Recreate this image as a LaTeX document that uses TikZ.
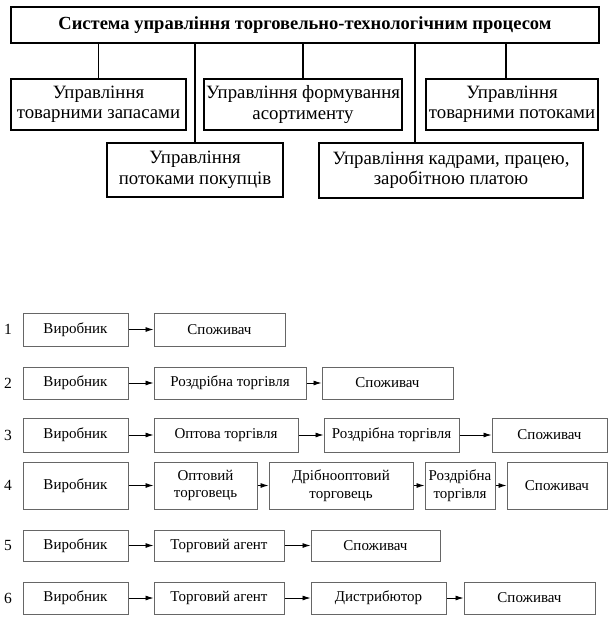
\documentclass[tikz,border=0pt]{standalone}
\usepackage{fontspec}
\setmainfont{Liberation Serif}
\usetikzlibrary{arrows.meta}

\begin{document}
\begin{tikzpicture}[x=1pt, y=-1pt,
        topbox/.style   = {draw, line width=1.6pt, inner sep=0pt, align=center,
                           font=\fontsize{18.8}{20.5}\selectfont},
        chainbox/.style = {draw=black!60, line width=1pt, inner sep=0pt, align=center,
                           font=\fontsize{15}{17.5}\selectfont},
        branch/.style   = {line width=1.6pt},
        flow/.style     = {-{Latex[length=8pt, width=5pt]}, line width=0.8pt},
        rownum/.style   = {font=\fontsize{15.5}{17}\selectfont}]
            \useasboundingbox (0, 0) rectangle (613, 620);

            % draw control system boxes
            \node[topbox, minimum width=588pt, minimum height=36pt,
                  font=\fontsize{18.5}{20}\selectfont\bfseries] (sys) at (305, 25)
                  {Система управління торговельно-технологічним процесом};
            \node[topbox, minimum width=175pt, minimum height=51pt] (zapasy) at ( 98.5, 104.5)
                  {Управління\\товарними запасами};
            \node[topbox, minimum width=198pt, minimum height=51pt] (asort)  at (303, 104.5)
                  {Управління формування\\асортименту};
            \node[topbox, minimum width=172pt, minimum height=51pt] (potoky) at (512, 104.5)
                  {Управління\\товарними потоками};
            \node[topbox, minimum width=176pt, minimum height=54pt] (pokup)  at (195, 170)
                  {Управління\\потоками покупців};
            \node[topbox, minimum width=264pt, minimum height=55pt] (kadry)  at (451, 170.5)
                  {Управління кадрами, працею,\\заробітною платою};

            % draw branch lines
            \draw[branch] (sys.south -| zapasy.north) -- (zapasy.north);
            \draw[branch] (sys.south -| pokup.north)  -- (pokup.north);
            \draw[branch] (sys.south -| asort.north)  -- (asort.north);
            \coordinate (kadrytop) at (415, 0);
            \draw[branch] (sys.south -| kadrytop) -- (kadry.north -| kadrytop);
            \coordinate (potokytop) at (506, 0);
            \draw[branch] (sys.south -| potokytop) -- (potoky.north -| potokytop);

            % draw distribution channels
            \foreach \n/\y in {1/329.5, 2/383, 3/435, 4/485.5, 5/545.5, 6/598}
                \node[rownum] (num\n) at (8, \y) {\n};

            % channel 1
            \node[chainbox, minimum width=105pt, minimum height=33pt] (a1) at ( 75.5, 329.5) {Виробник};
            \node[chainbox, minimum width=131pt, minimum height=33pt] (a2) at (219.5, 329.5) {Споживач};
            \draw[flow] (a1) -- (a2);

            % channel 2
            \node[chainbox, minimum width=105pt, minimum height=32pt] (b1) at ( 75.5, 383) {Виробник};
            \node[chainbox, minimum width=152pt, minimum height=32pt] (b2) at (230,   383) {Роздрібна торгівля};
            \node[chainbox, minimum width=131pt, minimum height=32pt] (b3) at (387.5, 383) {Споживач};
            \draw[flow] (b1) -- (b2);
            \draw[flow] (b2) -- (b3);

            % channel 3
            \node[chainbox, minimum width=105pt, minimum height=34pt] (c1) at ( 75.5, 435) {Виробник};
            \node[chainbox, minimum width=144pt, minimum height=34pt] (c2) at (226,   435) {Оптова торгівля};
            \node[chainbox, minimum width=135pt, minimum height=34pt] (c3) at (391.5, 435) {Роздрібна торгівля};
            \node[chainbox, minimum width=115pt, minimum height=34pt] (c4) at (549.5, 435) {Споживач};
            \draw[flow] (c1) -- (c2);
            \draw[flow] (c2) -- (c3);
            \draw[flow] (c3) -- (c4);

            % channel 4
            \node[chainbox, minimum width=105pt, minimum height=47pt] (d1) at ( 75.5, 485.5) {Виробник};
            \node[chainbox, minimum width=103pt, minimum height=47pt] (d2) at (205.5, 485.5) {Оптовий\\торговець};
            \node[chainbox, minimum width=144pt, minimum height=47pt] (d3) at (341,   485.5) {Дрібнооптовий\\торговець};
            \node[chainbox, minimum width=70pt,  minimum height=47pt] (d4) at (460,   485.5) {Роздрібна\\торгівля};
            \node[chainbox, minimum width=100pt, minimum height=47pt] (d5) at (557,   485.5) {Споживач};
            \draw[flow] (d1) -- (d2);
            \draw[flow] (d2) -- (d3);
            \draw[flow] (d3) -- (d4);
            \draw[flow] (d4) -- (d5);

            % channel 5
            \node[chainbox, minimum width=105pt, minimum height=31pt] (e1) at ( 75.5, 545.5) {Виробник};
            \node[chainbox, minimum width=130pt, minimum height=31pt] (e2) at (219,   545.5) {Торговий агент};
            \node[chainbox, minimum width=129pt, minimum height=31pt] (e3) at (375.5, 545.5) {Споживач};
            \draw[flow] (e1) -- (e2);
            \draw[flow] (e2) -- (e3);

            % channel 6
            \node[chainbox, minimum width=105pt, minimum height=32pt] (f1) at ( 75.5, 598) {Виробник};
            \node[chainbox, minimum width=130pt, minimum height=32pt] (f2) at (219,   598) {Торговий агент};
            \node[chainbox, minimum width=135pt, minimum height=32pt] (f3) at (378.5, 598) {Дистрибютор};
            \node[chainbox, minimum width=131pt, minimum height=32pt] (f4) at (529.5, 598) {Споживач};
            \draw[flow] (f1) -- (f2);
            \draw[flow] (f2) -- (f3);
            \draw[flow] (f3) -- (f4);
        \end{tikzpicture}
\end{document}
